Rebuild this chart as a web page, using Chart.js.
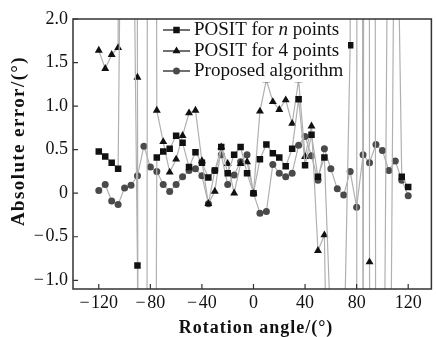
<!DOCTYPE html>
<html>
<head>
<meta charset="utf-8">
<script src="https://cdn.jsdelivr.net/npm/chart.js@4.4.1/dist/chart.umd.min.js"></script>
<style>
html,body{margin:0;padding:0;background:#fff;}
#wrap{width:436px;height:337px;}
</style>
</head>
<body>
<div id="wrap"><canvas id="myChart" width="436" height="337"></canvas></div>
<script>
// rotation angle (deg), one sample every 5 deg
var angles = [-120,-115,-110,-105,-100,-95,-90,-85,-80,-75,-70,-65,-60,-55,-50,-45,-40,-35,-30,-25,
  -20,-15,-10,-5,0,5,10,15,20,25,30,35,40,45,50,55,60,65,70,75,80,85,90,95,100,105,110,115,120];

// absolute error (deg); the big ones run off the plot
var positN = [0.48,0.42,0.35,0.28,8,6,-0.83,-20,-20,0.41,
  0.48,0.51,0.66,0.58,0.30,0.47,0.35,0.18,0.26,0.53,
  0.23,0.44,0.53,0.23,0.00,0.39,0.56,0.46,0.41,0.31,
  0.51,1.08,0.32,0.67,0.19,0.41,-1.6,-5,-2.0,1.70,
  60,-3,60,-5,-5,5,5,0.19,0.07];
var posit4 = [1.64,1.43,1.59,1.67,40,40,1.33,-40,40,0.95,
  0.59,0.24,0.39,0.66,0.92,0.95,0.37,-0.12,0.02,0.53,
  0.34,0.00,0.34,0.36,0.00,0.94,1.30,1.05,0.96,1.07,
  0.80,1.30,0.42,0.77,-0.66,-0.48,-5,-5,-5,-5,
  -5,200,-0.79,-30,-30,-5,5,5,5];
var proposed = [0.03,0.10,-0.09,-0.13,0.06,0.09,0.20,0.54,0.30,0.25,
  0.10,0.02,0.10,0.19,0.26,0.28,0.20,-0.12,0.26,0.44,
  0.10,0.21,0.36,0.44,0.00,-0.23,-0.21,0.33,0.23,0.19,
  0.23,0.55,0.65,0.43,0.15,0.51,0.28,0.05,-0.02,0.25,
  -0.16,0.44,0.35,0.56,0.49,0.26,0.37,0.15,-0.03];

var xTicks = [-120,-80,-40,0,40,80,120];
var yTicks = [-1,-0.5,0,0.5,1,1.5,2];
var names = ['POSIT for n points','POSIT for 4 points','Proposed algorithm'];
var xTitle = 'Rotation angle/(\u00b0)';
var yTitle = 'Absolute error/(\u00b0)';

var serif = 'Liberation Serif';

function pts(vals){
  return angles.map(function(a,i){ return {x:a, y:vals[i]}; });
}
function minus(s){ return String(s).replace('-', '\u2212\u200a'); }

var boxPlugin = {
  id: 'box',
  afterDatasetsDraw: function(chart){
    var ctx = chart.ctx, a = chart.chartArea;
    var xs = chart.scales.x, ys = chart.scales.y;
    ctx.save();
    // legend
    ctx.fillStyle = '#fff';
    ctx.fillRect(160, a.top + 1, 188, 62);
    var rows = [30, 51, 71];
    chart.data.datasets.forEach(function(ds, i){
      var y = rows[i];
      ctx.strokeStyle = '#222'; ctx.lineWidth = 1.3;
      ctx.beginPath(); ctx.moveTo(163, y); ctx.lineTo(190, y); ctx.stroke();
      ctx.fillStyle = ds.pointBackgroundColor;
      Chart.helpers.drawPoint(ctx, {pointStyle: ds.pointStyle, radius: ds.pointRadius, rotation: 0, borderWidth: 0}, 176.5, y);
      ctx.fillStyle = '#111';
      ctx.textBaseline = 'middle';
      ctx.font = '19px ' + serif;
      if (i === 0) {
        var x = 194;
        ctx.fillText('POSIT for ', x, y); x += ctx.measureText('POSIT for ').width;
        ctx.font = 'italic 19px ' + serif;
        ctx.fillText('n', x, y); x += ctx.measureText('n').width;
        ctx.font = '19px ' + serif;
        ctx.fillText(' points', x, y);
      } else {
        ctx.fillText(names[i], 194, y);
      }
    });
    // frame and inward ticks
    ctx.strokeStyle = '#333'; ctx.lineWidth = 1.5;
    ctx.strokeRect(a.left, a.top, a.right - a.left, a.bottom - a.top);
    ctx.lineWidth = 1.2;
    ctx.beginPath();
    xTicks.forEach(function(v){ var p = xs.getPixelForValue(v); ctx.moveTo(p, a.bottom); ctx.lineTo(p, a.bottom - 5); });
    yTicks.forEach(function(v){ var p = ys.getPixelForValue(v); ctx.moveTo(a.left, p); ctx.lineTo(a.left + 5, p); });
    ctx.stroke();
    // axis titles, letter-spaced like the print
    ctx.fillStyle = '#111';
    ctx.textAlign = 'center';
    ctx.textBaseline = 'alphabetic';
    ctx.font = 'bold 18px ' + serif;
    ctx.letterSpacing = '1px';
    ctx.fillText(xTitle, 256, 333);
    ctx.translate(24, 141);
    ctx.rotate(-Math.PI / 2);
    ctx.font = 'bold 19px ' + serif;
    ctx.letterSpacing = '1.4px';
    ctx.fillText(yTitle, 0, 0);
    ctx.restore();
  }
};

var ctx = document.getElementById('myChart').getContext('2d');
var myChart = new Chart(ctx, {
  type: 'line',
  data: {
    datasets: [{
      label: names[0],
      data: pts(positN),
      borderColor: '#b0b0b0',
      borderWidth: 1.2,
      pointStyle: 'rect',
      pointRadius: 4.6,
      pointBackgroundColor: '#111',
      pointBorderWidth: 0
    }, {
      label: names[1],
      data: pts(posit4),
      borderColor: '#b0b0b0',
      borderWidth: 1.2,
      pointStyle: 'triangle',
      pointRadius: 4.6,
      pointBackgroundColor: '#111',
      pointBorderWidth: 0
    }, {
      label: names[2],
      data: pts(proposed),
      borderColor: '#b0b0b0',
      borderWidth: 1.2,
      pointStyle: 'circle',
      pointRadius: 3.5,
      pointBackgroundColor: '#4a4a4a',
      pointBorderWidth: 0
    }]
  },
  options: {
    responsive: false,
    animation: false,
    layout: { padding: { top: 19, right: 2, left: 0, bottom: 0 } },
    plugins: { legend: { display: false }, tooltip: { enabled: false } },
    scales: {
      x: {
        type: 'linear', min: -140, max: 138,
        afterBuildTicks: function(s){ s.ticks = xTicks.map(function(v){ return {value: v}; }); },
        afterFit: function(s){ s.height = 48; },
        grid: { display: false, drawTicks: false },
        border: { display: false },
        ticks: { padding: 3, color: '#111', font: { family: serif, size: 18 }, callback: function(v){ return minus(v); } }
      },
      y: {
        min: -1.1, max: 2.0,
        afterBuildTicks: function(s){ s.ticks = yTicks.map(function(v){ return {value: v}; }); },
        afterFit: function(s){ s.width = 73; },
        grid: { display: false, drawTicks: false },
        border: { display: false },
        ticks: { padding: 5, color: '#111', font: { family: serif, size: 18 }, callback: function(v){ return v === 0 ? '0' : minus(v.toFixed(1)); } }
      }
    }
  },
  plugins: [boxPlugin]
});
</script>
</body>
</html>
